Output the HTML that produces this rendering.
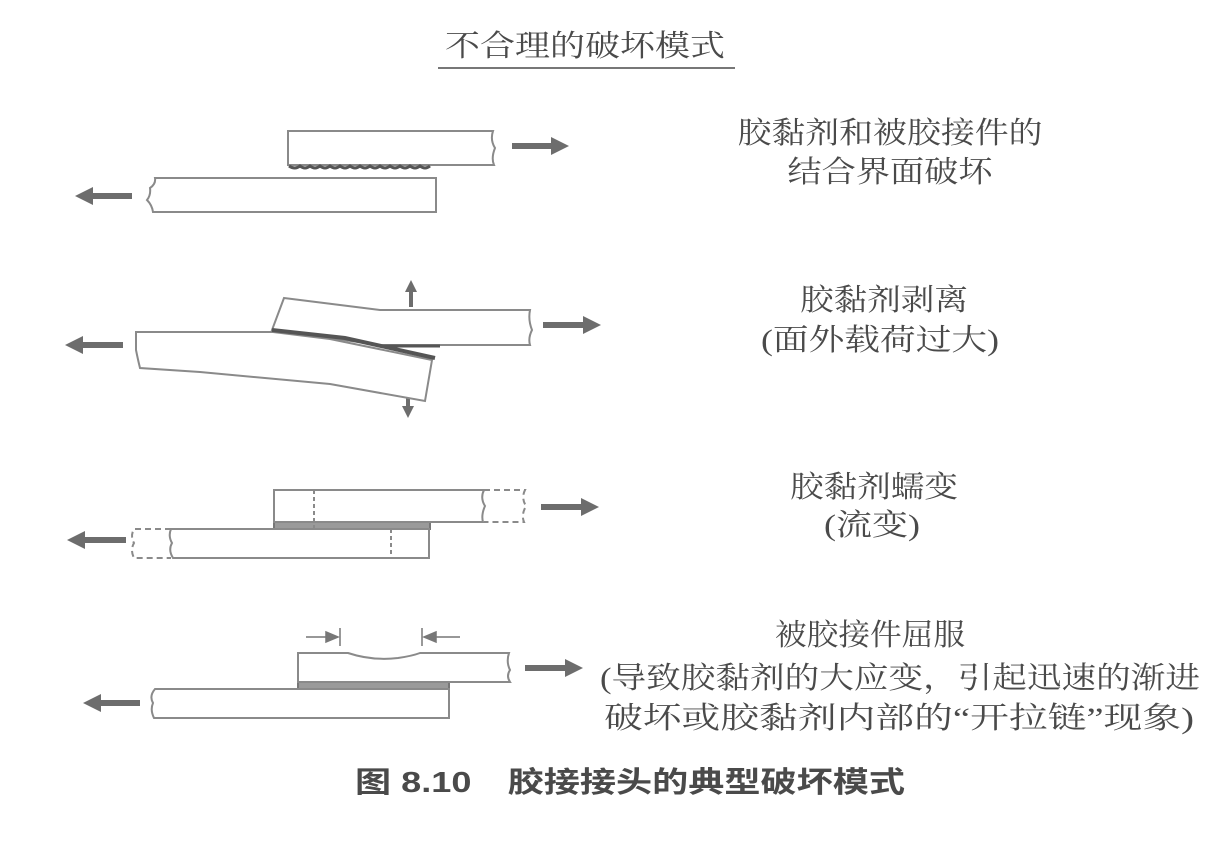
<!DOCTYPE html>
<html><head><meta charset="utf-8"><style>
html,body{margin:0;padding:0;background:#fff;}
svg{display:block}
text{font-family:"Liberation Serif","Noto Serif CJK SC","Noto Sans CJK SC",serif;fill:#4a4a4a;}
</style></head><body>
<svg width="1212" height="863" viewBox="0 0 1212 863" xmlns="http://www.w3.org/2000/svg">
<defs>
<marker id="ah" markerWidth="3" markerHeight="3" refX="1.5" refY="1.5" orient="auto" markerUnits="strokeWidth">
<path d="M0,0 L3,1.5 L0,3 z" fill="#6d6d6d"/></marker>
</defs>
<g stroke="#6d6d6d" stroke-width="6" fill="none">
<!-- panel1 -->
<line x1="512" y1="146" x2="560" y2="146" marker-end="url(#ah)"/>
<line x1="132" y1="196" x2="84" y2="196" marker-end="url(#ah)"/>
<!-- panel2 -->
<line x1="543" y1="325" x2="592" y2="325" marker-end="url(#ah)"/>
<line x1="123" y1="345" x2="74" y2="345" marker-end="url(#ah)"/>
<line x1="411" y1="307" x2="411" y2="286" stroke-width="4" marker-end="url(#ah)"/>
<line x1="408" y1="392" x2="408" y2="412" stroke-width="4" marker-end="url(#ah)"/>
<!-- panel3 -->
<line x1="541" y1="507" x2="590" y2="507" marker-end="url(#ah)"/>
<line x1="126" y1="540" x2="76" y2="540" marker-end="url(#ah)"/>
<!-- panel4 -->
<line x1="525" y1="668" x2="574" y2="668" marker-end="url(#ah)"/>
<line x1="140" y1="703" x2="92" y2="703" marker-end="url(#ah)"/>
</g>
<g stroke="#8a8a8a" stroke-width="2" fill="#fff">
<!-- panel1 -->
<path d="M288,131 L493,131 Q490,140 495,148 Q491,158 494,165 L288,165 Z"/>
<path d="M289,166 Q295,170 300,166 Q305,170 310,166 Q315,170 320,166 Q325,170 330,166 Q335,170 340,166 Q345,170 350,166 Q355,170 360,166 Q365,170 370,166 Q375,170 380,166 Q385,170 390,166 Q395,170 400,166 Q405,170 410,166 Q415,170 420,166 Q425,170 430,166" stroke="#555" stroke-width="3" fill="none"/>
<path d="M155,178 L436,178 L436,212 L153,212 Q152,205 147,200 Q151,195 150,188 Q156,184 155,178 Z"/>
<!-- panel2 -->
<path d="M136,332 L273,332 L330,339 L432,360 L425,401 L330,384 L200,372 L140,368 Q138,360 136,350 Z"/>
<path d="M284,298 L380,310 L530,310 Q528,320 532,330 Q528,338 530,345 L380,345 L272,330 Z"/>
<path d="M272,330 L345,338 L435,358" stroke="#555" stroke-width="4" fill="none"/>
<path d="M380,346 L440,346" stroke="#555" stroke-width="3" fill="none"/>
<!-- panel3 -->
<rect x="274" y="522" width="156" height="7" fill="#9a9a9a" stroke="#777"/>
<path d="M274,490 L484,490 Q480,498 485,506 Q481,515 483,522 L274,522 Z"/>
<path d="M484,490 L525,490 Q521,498 526,506 Q521,515 524,522 L484,522" stroke-dasharray="6,4" fill="none"/>
<line x1="314" y1="490" x2="314" y2="529" stroke-dasharray="4,3"/>
<path d="M171,529 L429,529 L429,558 L173,558 Q168,550 172,543 Q168,536 171,529 Z"/>
<path d="M171,529 L134,529 Q130,536 134,543 Q130,550 134,558 L171,558" stroke-dasharray="6,4" fill="none"/>
<line x1="391" y1="529" x2="391" y2="558" stroke-dasharray="4,3"/>
<!-- panel4 -->
<rect x="298" y="682" width="151" height="7" fill="#9a9a9a" stroke="#777"/>
<path d="M298,653 L348,653 Q372,661 398,658 Q412,656 420,653 L509,653 Q506,662 510,670 Q506,676 510,682 L298,682 Z"/>
<path d="M155,689 L449,689 L449,718 L154,718 Q150,710 153,703 Q149,696 155,689 Z"/>
</g>
<g stroke="#777" stroke-width="1.5" fill="#777">
<line x1="340" y1="628" x2="340" y2="646"/>
<line x1="422" y1="628" x2="422" y2="646"/>
<line x1="306" y1="637" x2="328" y2="637"/>
<path d="M326,632 L338,637 L326,642 Z"/>
<line x1="436" y1="637" x2="460" y2="637"/>
<path d="M436,632 L424,637 L436,642 Z"/>
</g>
<!-- texts -->
<text x="585" y="56" font-size="30" text-anchor="middle" textLength="280" lengthAdjust="spacingAndGlyphs">不合理的破坏模式</text>
<line x1="438" y1="68" x2="735" y2="68" stroke="#777" stroke-width="2"/>
<text x="890" y="143" font-size="30" text-anchor="middle" textLength="305" lengthAdjust="spacingAndGlyphs">胶黏剂和被胶接件的</text>
<text x="890" y="182" font-size="30" text-anchor="middle" textLength="205" lengthAdjust="spacingAndGlyphs">结合界面破坏</text>
<text x="884" y="310" font-size="30" text-anchor="middle" textLength="168" lengthAdjust="spacingAndGlyphs">胶黏剂剥离</text>
<text x="880" y="350" font-size="30" text-anchor="middle" textLength="238" lengthAdjust="spacingAndGlyphs">(面外载荷过大)</text>
<text x="874" y="497" font-size="30" text-anchor="middle" textLength="168" lengthAdjust="spacingAndGlyphs">胶黏剂蠕变</text>
<text x="872" y="535" font-size="30" text-anchor="middle" textLength="96" lengthAdjust="spacingAndGlyphs">(流变)</text>
<text x="870" y="645" font-size="30" text-anchor="middle" textLength="190" lengthAdjust="spacingAndGlyphs">被胶接件屈服</text>
<text x="600" y="688" font-size="30" textLength="600" lengthAdjust="spacingAndGlyphs">(导致胶黏剂的大应变，引起迅速的渐进</text>
<text x="604" y="728" font-size="30" textLength="590" lengthAdjust="spacingAndGlyphs">破坏或胶黏剂内部的“开拉链”现象)</text>
<text x="355" y="792" font-size="29" font-weight="bold" textLength="550" lengthAdjust="spacingAndGlyphs" style="font-family:'Liberation Sans','Noto Sans CJK SC',sans-serif">图 8.10　胶接接头的典型破坏模式</text>
</svg>
</body></html>
